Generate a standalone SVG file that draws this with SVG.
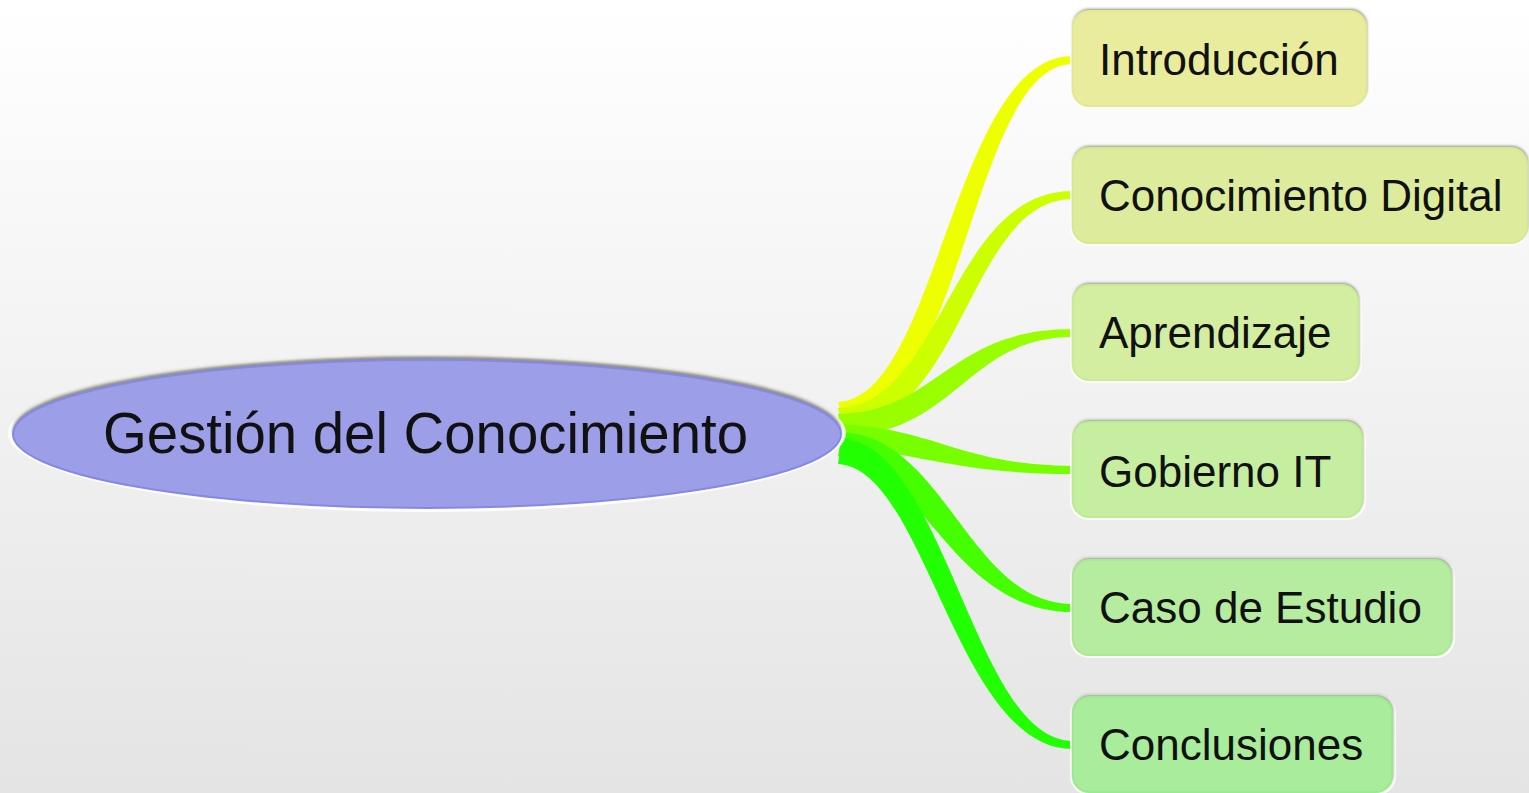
<svg xmlns="http://www.w3.org/2000/svg" width="1529" height="793" viewBox="0 0 1529 793">
  <defs>
    <linearGradient id="bg" x1="0" y1="0" x2="0" y2="1">
      <stop offset="0" stop-color="#ffffff"/>
      <stop offset="1" stop-color="#e4e4e4"/>
    </linearGradient>
    <filter id="soft" x="-5%" y="-10%" width="110%" height="120%">
      <feGaussianBlur stdDeviation="1.4"/>
    </filter>
    <filter id="edge" x="-5%" y="-5%" width="110%" height="110%">
      <feGaussianBlur stdDeviation="0.6"/>
    </filter>
  </defs>
  <style>
    .halo { fill: #ffffff; opacity: 0.9; }
    .shadow { fill: #8e8e86; filter: url(#soft); }
    .box { stroke-width: 2; }
    .label { font-family: "Liberation Sans", Arial, sans-serif; font-size: 44px; fill: #111111; }
    .root-label { font-family: "Liberation Sans", Arial, sans-serif; font-size: 57px; fill: #111111; }
    .branch { filter: url(#edge); }
  </style>

  <rect width="1529" height="793" fill="url(#bg)"/>

  <!-- tapered branches from the central topic -->
  <g id="connectors" class="branch">
    <path d="M838,402 C938,398 953,56 1073,56 L1073,64 C971,64 964,418 842,418 Z" fill="#eeff00"/>
    <path d="M838,408 C943,406 950,191 1073,191 L1073,199 C968,199 964,426 842,426 Z" fill="#ccff00"/>
    <path d="M838,414 C938,412 948,329 1073,329 L1073,337 C966,337 957,434 842,436 Z" fill="#99ff00"/>
    <path d="M838,424 C935,428 960,465 1073,466 L1073,474 C958,474 928,454 842,448 Z" fill="#77ff00"/>
    <path d="M842,432 C947,438 969,604 1073,604 L1073,612 C951,612 923,464 838,456 Z" fill="#44ff00"/>
    <path d="M842,438 C947,448 974,741 1073,741 L1073,749 C956,749 926,468 838,464 Z" fill="#22ff00"/>
  </g>

  <!-- central topic -->
  <g id="node-root">
    <ellipse cx="427" cy="433" rx="419" ry="79" class="halo"/>
    <ellipse cx="427" cy="430" rx="414" ry="74" class="shadow"/>
    <ellipse cx="427" cy="434" rx="414" ry="74" fill="#9c9ee8" stroke="#8589e6" stroke-width="2"/>
    <text x="103" y="453" class="root-label" textLength="645" lengthAdjust="spacingAndGlyphs">Gestión del Conocimiento</text>
  </g>

  <!-- subtopics -->
  <g id="node-introduccion">
    <rect x="1070" y="8" width="300" height="101" rx="19" class="halo"/>
    <rect x="1073" y="9" width="294" height="95" rx="16" class="shadow"/>
    <rect x="1073" y="11" width="293" height="95" rx="16" class="box" fill="#e8ec9c" stroke="#e3ea8e"/>
    <text x="1099" y="75" class="label">Introducción</text>
  </g>

  <g id="node-conocimiento-digital">
    <rect x="1070" y="145" width="459" height="101" rx="19" class="halo"/>
    <rect x="1073" y="146" width="455" height="95" rx="16" class="shadow"/>
    <rect x="1073" y="148" width="454" height="95" rx="16" class="box" fill="#dcec9c" stroke="#d5ea8e"/>
    <text x="1099" y="211" class="label">Conocimiento Digital</text>
  </g>

  <g id="node-aprendizaje">
    <rect x="1070" y="282" width="292" height="101" rx="19" class="halo"/>
    <rect x="1073" y="283" width="286" height="95" rx="16" class="shadow"/>
    <rect x="1073" y="285" width="285" height="95" rx="16" class="box" fill="#d3eea0" stroke="#caec90"/>
    <text x="1099" y="348" class="label">Aprendizaje</text>
  </g>

  <g id="node-gobierno-it">
    <rect x="1070" y="419" width="296" height="101" rx="19" class="halo"/>
    <rect x="1073" y="420" width="290" height="95" rx="16" class="shadow"/>
    <rect x="1073" y="422" width="289" height="95" rx="16" class="box" fill="#c6eea0" stroke="#bbec90"/>
    <text x="1099" y="487" class="label">Gobierno IT</text>
  </g>

  <g id="node-caso-de-estudio">
    <rect x="1070" y="557" width="385" height="101" rx="19" class="halo"/>
    <rect x="1073" y="558" width="379" height="95" rx="16" class="shadow"/>
    <rect x="1073" y="560" width="378" height="95" rx="16" class="box" fill="#b6eca0" stroke="#a9ea90"/>
    <text x="1099" y="623" class="label">Caso de Estudio</text>
  </g>

  <g id="node-conclusiones">
    <rect x="1070" y="694" width="326" height="101" rx="19" class="halo"/>
    <rect x="1073" y="695" width="320" height="95" rx="16" class="shadow"/>
    <rect x="1073" y="697" width="319" height="95" rx="16" class="box" fill="#a8ec9c" stroke="#9aea8e"/>
    <text x="1099" y="760" class="label">Conclusiones</text>
  </g>
</svg>
